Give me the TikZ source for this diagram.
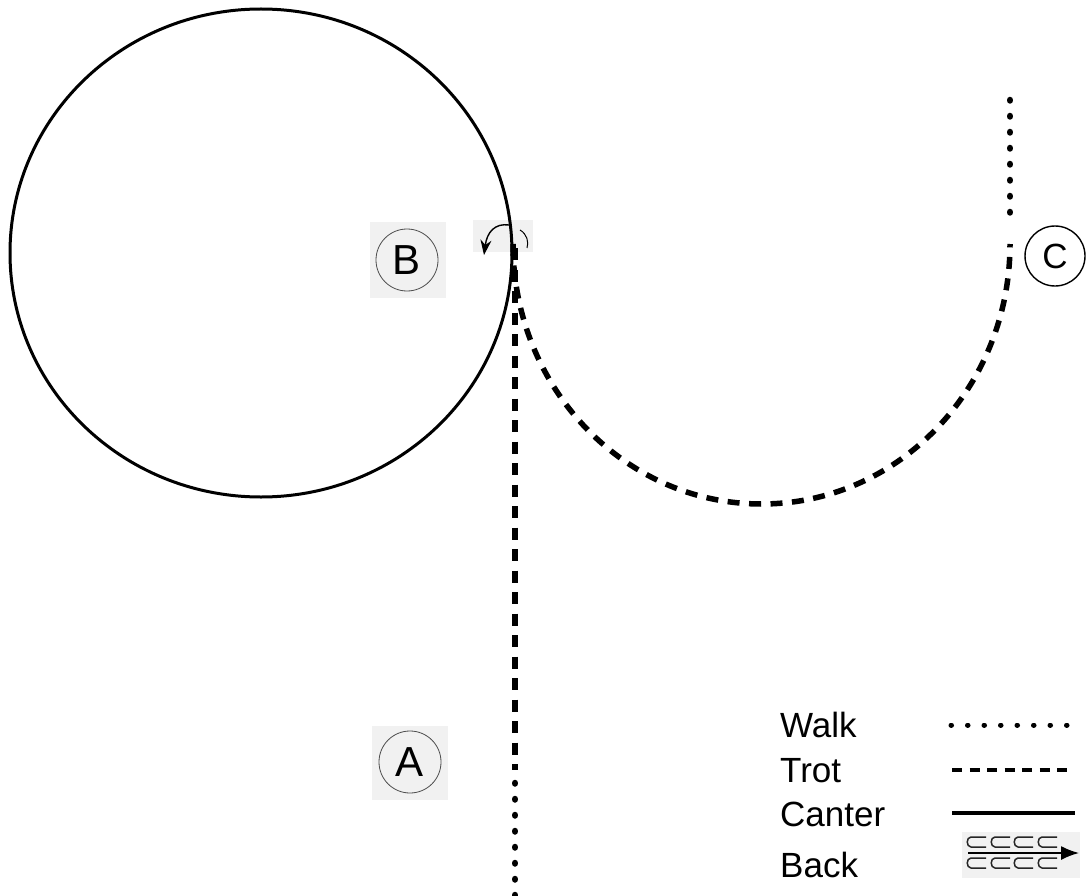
\documentclass[tikz,border=0pt]{standalone}
\usepackage{fontspec}
\setmainfont{Liberation Sans}
\usetikzlibrary{arrows.meta}
\definecolor{scangray}{HTML}{F1F1F1}
\begin{document}
\begin{tikzpicture}[x=1pt,y=-1pt,
  walk/.style={line width=6.5pt, dash pattern=on 0.5pt off 15.5pt, line cap=round},
  trot/.style={line width=5.5pt, dash pattern=on 12pt off 9.5pt},
  canter/.style={line width=3pt},
  scan/.style={fill=scangray, draw=none},
  marker/.style={circle, draw=black!70, line width=0.8pt, minimum size=62pt, inner sep=0pt, font=\fontsize{42}{42}\selectfont},
  cmarker/.style={circle, draw=black, line width=1.4pt, minimum size=60pt, inner sep=0pt, font=\fontsize{35}{35}\selectfont},
  legtext/.style={anchor=base west, inner sep=0pt, font=\fontsize{35}{35}\selectfont},
  cshape/.style={draw=black!85, line width=1.5pt}]
\useasboundingbox (0,0) rectangle (1092,896);
% scanned backgrounds
\fill[scan] (370,222) rectangle (446,298);
\fill[scan] (372,726) rectangle (448,800);
\fill[scan] (473,220) rectangle (533,252);
\fill[scan] (962,832) rectangle (1080,878);
% big canter circle
\draw[canter] (261,253) ellipse [x radius=251pt, y radius=244pt];
% coordinates
\coordinate (tstart) at (513,244);
\coordinate (vtop) at (515,248);
\coordinate (vmid) at (515,770);
\coordinate (wstart) at (515,783);
\coordinate (wend) at (515,902);
\coordinate (rtop) at (1010,100);
\coordinate (rbot) at (1010,228);
% trot half circle
\draw[trot] (tstart) arc[start angle=180, end angle=360, x radius=248.5pt, y radius=260pt];
% vertical trot then walk
\draw[trot] (vtop) -- (vmid);
\draw[walk] (wstart) -- (wend);
% right walk
\draw[walk] (rtop) -- (rbot);
% markers
\node[marker] (B) at (407,260) {B};
\node[marker] (A) at (410,762) {A};
\node[cmarker] (C) at (1055,256) {C};
% turn arrow near B
\coordinate (aS) at (509,225);
\coordinate (aE) at (484,255);
\draw[line width=1.4pt, -{Stealth[length=15pt,width=11pt]}] (aS) .. controls (495,223) and (487,232) .. (aE);
\coordinate (sS) at (520,230);
\coordinate (sE) at (527,248);
\draw[line width=1pt] (sS) .. controls (527,234) and (529,242) .. (sE);
% legend
\node[legtext] (lw) at (780,737) {Walk};
\node[legtext] (lt) at (780,782) {Trot};
\node[legtext] (lc) at (780,826) {Canter};
\node[legtext] (lb) at (780,877) {Back};
\coordinate (w1) at (951,725); \coordinate (w2) at (1068,725);
\coordinate (t1) at (952,770); \coordinate (t2) at (1074,770);
\coordinate (c1) at (952,813); \coordinate (c2) at (1075,813);
\draw[line width=5pt, dash pattern=on 0.5pt off 16pt, line cap=round] (w1) -- (w2);
\draw[line width=4.5pt, dash pattern=on 10pt off 7.5pt] (t1) -- (t2);
\draw[line width=4pt] (c1) -- (c2);
% back symbol
\foreach \x in {966,990,1013,1037}{
  \draw[cshape] (\x+20,837) -- (\x+5,837) .. controls (\x,837) and (\x,847) .. (\x+5,847) -- (\x+20,847);
  \draw[cshape] (\x+20,858) -- (\x+5,858) .. controls (\x,858) and (\x,868) .. (\x+5,868) -- (\x+20,868);
}
\coordinate (b1) at (968,853); \coordinate (b2) at (1079,853);
\draw[line width=1.6pt, -{Latex[length=18pt,width=14pt]}] (b1) -- (b2);
\end{tikzpicture}
\end{document}
